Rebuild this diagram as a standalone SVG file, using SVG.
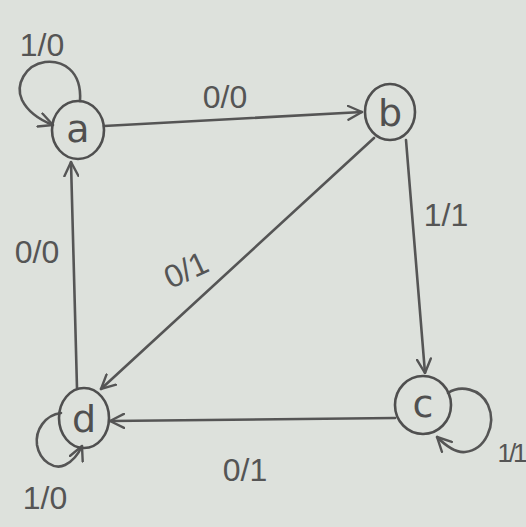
<svg xmlns="http://www.w3.org/2000/svg" width="526" height="527" viewBox="0 0 526 527">
<defs>
<style>
.node{fill:none;stroke:#4f4f4f;stroke-width:2.6}
.edge{fill:none;stroke:#555;stroke-width:2.6;stroke-linecap:round}
.nl{font-family:"DejaVu Sans","Liberation Sans",sans-serif;font-size:38px;fill:#505050;text-anchor:middle}
.lbl{font-family:"Liberation Sans","DejaVu Sans",sans-serif;font-size:32px;fill:#555;text-anchor:middle}
</style>
<marker id="arrL" viewBox="0 0 16 16" refX="15" refY="8" markerWidth="16" markerHeight="16" markerUnits="userSpaceOnUse" orient="auto">
<path d="M1,1 L15,8 L1,15" fill="none" stroke="#555" stroke-width="2.4" stroke-linecap="round"/>
</marker>
</defs>
<rect width="526" height="527" fill="#dde1dc"/>
<g id="connectors">
<path class="edge" d="M104,126 L362,112" marker-end="url(#arrL)"/>
<path class="edge" d="M406,140 L425,373" marker-end="url(#arrL)"/>
<path class="edge" d="M374,138 L101,389" marker-end="url(#arrL)"/>
<path class="edge" d="M395,418 L110,421" marker-end="url(#arrL)"/>
<path class="edge" d="M77,388 L71,162" marker-end="url(#arrL)"/>
<path class="edge" d="M80,101 C82,70 62,60 45,62 C25,65 15,85 22,100 C28,112 40,120 53,125" marker-end="url(#arrL)"/>
<path class="edge" d="M61,413 C45,415 35,430 37,445 C40,462 55,470 65,465 C73,461 78,455 82,446" marker-end="url(#arrL)"/>
<path class="edge" d="M448,393 C460,385 480,388 488,405 C497,425 485,450 465,452 C455,453 445,445 437,437" marker-end="url(#arrL)"/>
<text class="lbl" x="42" y="56">1/0</text>
<text class="lbl" x="225" y="108">0/0</text>
<text class="lbl" x="446" y="226">1/1</text>
<text class="lbl" x="186" y="281" transform="rotate(-25 186 270)">0/1</text>
<text class="lbl" x="37" y="263">0/0</text>
<text class="lbl" x="245" y="481">0/1</text>
<text class="lbl" x="45" y="509">1/0</text>
<text class="lbl" x="511" y="462" style="font-size:26px;letter-spacing:-3px">1/1</text>
</g>
<g id="node-a"><ellipse class="node" cx="78" cy="130" rx="26" ry="29"/><text class="nl" x="78" y="142">a</text></g>
<g id="node-b"><ellipse class="node" cx="390" cy="112" rx="25" ry="28"/><text class="nl" x="390" y="126">b</text></g>
<g id="node-c"><ellipse class="node" cx="423" cy="405" rx="28" ry="29"/><text class="nl" x="423" y="417">c</text></g>
<g id="node-d"><ellipse class="node" cx="84" cy="418" rx="25" ry="30"/><text class="nl" x="84" y="432">d</text></g>
</svg>
